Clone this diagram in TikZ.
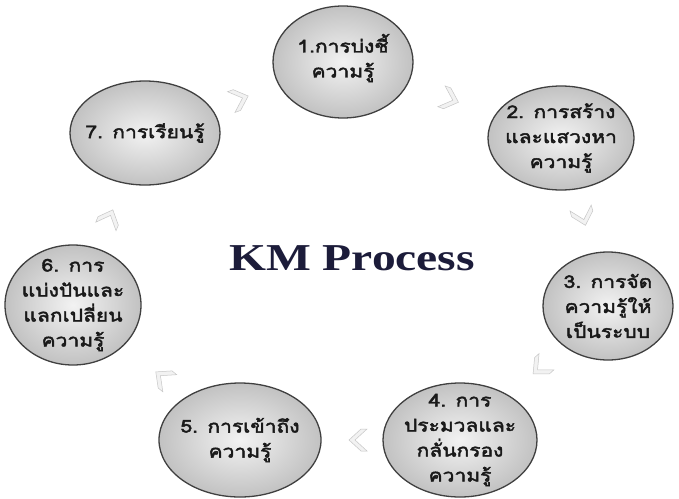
\documentclass[tikz,border=0pt]{standalone}
\usepackage{fontspec}
\setmainfont{Liberation Serif}
\newfontfamily\thaifont[Script=Thai,FakeStretch=1.2,FakeBold=2.5]{Loma}
\newfontfamily\kmfont[FakeStretch=1.25]{Liberation Serif}
\usetikzlibrary{shapes.geometric}
\definecolor{kmblue}{HTML}{1C1C3A}
\tikzset{
  bub/.style={ellipse, draw=black!75, line width=1.3pt, inner sep=0pt,
    shading=radial, inner color=gray!10, outer color=gray!48},
  lbl/.style={font=\thaifont\fontsize{17.5}{25}\selectfont, align=center, text=black!90, inner sep=0pt},
  chev/.pic={\filldraw[fill=gray!10, draw=gray!45, line width=0.5pt]
    (-9,-11) -- (3,0) -- (-9,11) -- (-15,11) -- (-3,0) -- (-15,-11) -- cycle;}
}
\begin{document}
\begin{tikzpicture}[x=1pt,y=-1pt]
\useasboundingbox (0,0) rectangle (679,498);
\fill[white] (0,0) rectangle (679,498);

\node[bub, minimum width=140pt, minimum height=112pt] (c1) at (343,62) {};
\node[bub, minimum width=146pt, minimum height=104pt] (c2) at (561,138) {};
\node[bub, minimum width=130pt, minimum height=108pt] (c3) at (608,306) {};
\node[bub, minimum width=154pt, minimum height=114pt] (c4) at (460,440) {};
\node[bub, minimum width=162pt, minimum height=114pt] (c5) at (240,440) {};
\node[bub, minimum width=136pt, minimum height=120pt] (c6) at (73,305) {};
\node[bub, minimum width=150pt, minimum height=104pt] (c7) at (145,133) {};

\node[lbl] (t1) at ([yshift=4pt]c1) {1.การบ่งชี้\\ความรู้};
\node[lbl] (t2) at (c2) {2. การสร้าง\\และแสวงหา\\ความรู้};
\node[lbl] (t3) at (c3) {3. การจัด\\ความรู้ให้\\เป็นระบบ};
\node[lbl] (t4) at (c4) {4. การ\\ประมวลและ\\กลั่นกรอง\\ความรู้};
\node[lbl] (t5) at (c5) {5. การเข้าถึง\\ความรู้};
\node[lbl] (t6) at (c6) {6. การ\\แบ่งปันและ\\แลกเปลี่ยน\\ความรู้};
\node[lbl] (t7) at (c7) {7. การเรียนรู้};

\node[font=\kmfont\bfseries\fontsize{38}{40}\selectfont, text=kmblue] (km) at (352,258) {KM Process};

\path (c7) -- (c1) pic[pos=0.5, sloped, allow upside down] {chev};
\path (c1) -- (c2) pic[pos=0.55, sloped, allow upside down] {chev};
\path (c2) -- (c3) pic[pos=0.52, sloped, allow upside down] {chev};
\path (c3) -- (c4) pic[pos=0.52, sloped, allow upside down] {chev};
\path (c4) -- (c5) pic[pos=0.5, sloped, allow upside down] {chev};
\path (c5) -- (c6) pic[pos=0.45, sloped, allow upside down] {chev};
\path (c6) -- (c7) pic[pos=0.55, sloped, allow upside down] {chev};
\end{tikzpicture}
\end{document}
